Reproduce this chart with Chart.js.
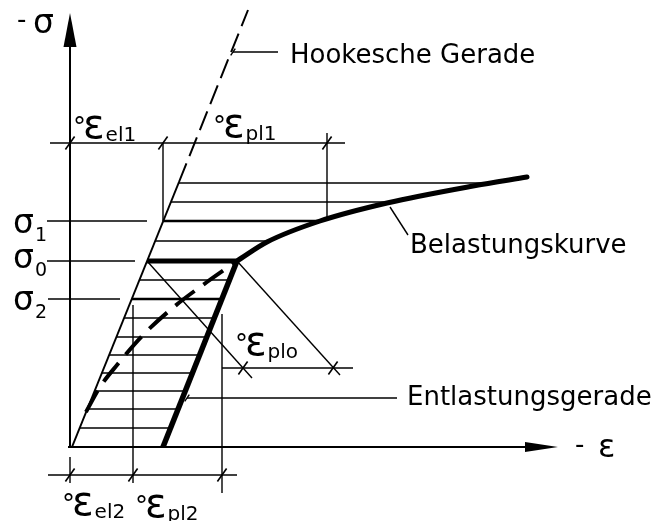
<!DOCTYPE html>
<html lang="de">
<head>
<meta charset="utf-8">
<title>Belastung und Entlastung</title>
<script src="https://cdn.jsdelivr.net/npm/chart.js@4.4.1/dist/chart.umd.min.js"></script>
<style>
  html, body { margin: 0; padding: 0; background: #fff; }
  #wrap { width: 656px; height: 521px; }
</style>
</head>
<body>
<div id="wrap"><canvas id="diagramm" width="656" height="521"></canvas></div>
<script>
// Dehnung -ε nach rechts, Spannung -σ nach oben (willkürliche Einheiten)
const sigma0 = 18.6;
const sigma1 = 22.6;
const sigma2 = 14.8;

// Hookesche Gerade: bis Index 1 durchgezogen, danach gestrichelt
const hookeEps = [0.2, 10.9, 17.8];
const hookeSig = [0, 26.5, 43.7];

// Belastungskurve ab dem Umkehrpunkt bei σ0
const belastEps = [16.7, 19.7, 25.0, 31.7, 40.3, 45.7];
const belastSig = [sigma0, 20.5, 22.6, 24.4, 26.1, 27.0];

// Entlastungsgerade (parallel zur Hookeschen Geraden)
const entlastEps = [16.7, 9.3];
const entlastSig = [sigma0, 0];

// gestrichelte Kurve zwischen Hookescher Geraden und Umkehrpunkt
const wiederEps = [1.6, 3.0, 4.7, 7.3, 10.5, 13.7, 16.7];
const wiederSig = [3.5, 6.0, 8.2, 11.2, 14.1, 16.5, sigma0];

// Höhen der Schraffurlinien
const schraffurSig = [26.4, 24.5, sigma1, 20.6, 16.7, sigma2, 12.9, 11.0, 9.2, 7.4, 5.6, 3.8, 1.9];

// Bemaßung der Dehnungsanteile
const epsEl1 = 9.3, epsGes1 = 25.7, bemOben = 30.4;
const epsEl2 = 6.3, epsGes2 = 15.2, bemUnten = -2.8;
const epsPlo = [17.3, 26.3], bemPlo = 7.9;

const SCHRIFT = '"DejaVu Sans", sans-serif';

// ε auf einem Linienzug zu gegebener Spannung
function epsAt(epsArr, sigArr, s) {
  for (let i = 0; i < sigArr.length - 1; i++) {
    const a = sigArr[i], b = sigArr[i + 1];
    if ((s - a) * (s - b) <= 0) {
      return epsArr[i] + (epsArr[i + 1] - epsArr[i]) * (s - a) / (b - a);
    }
  }
  return epsArr[epsArr.length - 1];
}

const pts = (xs, ys) => xs.map((x, i) => ({ x: x, y: ys[i] }));

function linie(data, width, extra) {
  return Object.assign({
    data: data,
    showLine: true,
    borderColor: '#000',
    borderWidth: width,
    pointRadius: 0,
    fill: false,
    borderCapStyle: 'butt'
  }, extra || {});
}

const datasets = [];

// Schraffur
for (let s of schraffurSig) {
  const links = epsAt(hookeEps, hookeSig, s);
  const rechts = s > sigma0 ? epsAt(belastEps, belastSig, s) : epsAt(entlastEps, entlastSig, s);
  const dick = (s === sigma1 || s === sigma2) ? 2.4 : 1.4;
  datasets.push(linie([{ x: links, y: s }, { x: rechts, y: s }], dick));
}

// Hilfs- und Maßlinien
const hilfslinien = [
  [[-2.3, sigma1], [7.7, sigma1]],
  [[-2.3, sigma0], [6.5, sigma0]],
  [[-2.2, sigma2], [5.0, sigma2]],
  [[-2.0, bemOben], [27.5, bemOben]],
  [[epsEl1, bemOben], [epsEl1, sigma1]],
  [[epsGes1, 31.4], [epsGes1, 22.9]],
  [[-2.2, bemUnten], [16.7, bemUnten]],
  [[0, -1.0], [0, -3.6]],
  [[epsEl2, 14.2], [epsEl2, -3.6]],
  [[epsGes2, 13.3], [epsGes2, -4.6]],
  [[7.7, sigma0], [18.2, 6.9]],
  [[16.7, sigma0], [27.0, 7.2]],
  [[epsGes2, bemPlo], [28.3, bemPlo]],
  [[11.7, 4.9], [32.7, 4.9]],
  [[16.3, 39.5], [20.8, 39.5]],
  [[32.0, 24.0], [33.8, 21.2]]
];
for (let h of hilfslinien) {
  datasets.push(linie(h.map(p => ({ x: p[0], y: p[1] })), 1.4));
}

// Koordinatenachsen
datasets.push(linie([{ x: 0, y: 0 }, { x: 0, y: 41 }], 2));
datasets.push(linie([{ x: -0.2, y: 0 }, { x: 46, y: 0 }], 2));

// Maßpfeile als Schrägstriche
const striche = [
  { x: 0, y: bemOben }, { x: epsEl1, y: bemOben }, { x: epsGes1, y: bemOben },
  { x: 0, y: bemUnten }, { x: epsEl2, y: bemUnten }, { x: epsGes2, y: bemUnten },
  { x: epsPlo[0], y: bemPlo }, { x: epsPlo[1], y: bemPlo }
];
datasets.push({
  data: striche, showLine: false, pointStyle: 'line', rotation: -55,
  pointRadius: 8, pointBorderWidth: 1.6, pointBorderColor: '#000'
});
datasets.push({
  data: [{ x: 16.3, y: 39.5 }, { x: 11.7, y: 4.9 }], showLine: false, pointStyle: 'line',
  rotation: -55, pointRadius: 4, pointBorderWidth: 1.4, pointBorderColor: '#000'
});

// Hookesche Gerade
datasets.push(linie(pts(hookeEps, hookeSig), 2, {
  segment: { borderDash: c => c.p0DataIndex >= 1 ? [20, 8] : undefined }
}));

// gestrichelte Kurve
datasets.push(linie(pts(wiederEps, wiederSig), 4, {
  cubicInterpolationMode: 'monotone', borderDash: [24, 11]
}));

// σ0-Linie, Belastungskurve, Entlastungsgerade
datasets.push(linie([{ x: epsAt(hookeEps, hookeSig, sigma0), y: sigma0 }, { x: belastEps[0], y: sigma0 }], 5));
datasets.push(linie(pts(belastEps, belastSig), 5, { cubicInterpolationMode: 'monotone', borderCapStyle: 'round' }));
datasets.push(linie(pts(entlastEps, entlastSig), 5.5));

function epsLabel(ctx, x, y, sub) {
  ctx.font = '26px ' + SCHRIFT;
  ctx.fillText('°', x, y - 2);
  ctx.font = '40px ' + SCHRIFT;
  ctx.fillText('ε', x + 10, y);
  const w = ctx.measureText('ε').width;
  ctx.font = '20px ' + SCHRIFT;
  ctx.fillText(sub, x + 11 + w, y + 3);
}

function sigLabel(ctx, x, y, sub) {
  ctx.font = '33px ' + SCHRIFT;
  ctx.fillText('σ', x, y);
  const w = ctx.measureText('σ').width;
  ctx.font = '19px ' + SCHRIFT;
  ctx.fillText(sub, x + w + 1, y + 8);
}

const beschriftung = {
  id: 'beschriftung',
  afterDatasetsDraw(chart) {
    const ctx = chart.ctx;
    const px = e => chart.scales.x.getPixelForValue(e);
    const py = s => chart.scales.y.getPixelForValue(s);
    ctx.save();
    ctx.fillStyle = '#000';

    // Pfeilspitzen der Achsen
    ctx.beginPath();
    ctx.moveTo(px(0), py(43.4));
    ctx.lineTo(px(0) - 6.5, py(40.0));
    ctx.lineTo(px(0) + 6.5, py(40.0));
    ctx.closePath();
    ctx.fill();
    ctx.beginPath();
    ctx.moveTo(px(48.8), py(0));
    ctx.lineTo(px(45.5), py(0) - 5);
    ctx.lineTo(px(45.5), py(0) + 5);
    ctx.closePath();
    ctx.fill();

    ctx.textAlign = 'left';
    ctx.textBaseline = 'alphabetic';

    // Achsenbezeichnungen
    ctx.font = '26px ' + SCHRIFT;
    ctx.fillText('-', px(-5.3), py(41.9));
    ctx.font = '33px ' + SCHRIFT;
    ctx.fillText('σ', px(-3.7), py(41.4));
    ctx.font = '26px ' + SCHRIFT;
    ctx.fillText('-', px(50.5), py(-0.6));
    ctx.font = '32px ' + SCHRIFT;
    ctx.fillText('ε', px(52.8), py(-1.0));

    ctx.font = '26px ' + SCHRIFT;
    ctx.fillText('Hookesche Gerade', px(22.0), py(38.4));
    ctx.fillText('Belastungskurve', px(34.0), py(19.4));
    ctx.fillText('Entlastungsgerade', px(33.7), py(4.2));

    sigLabel(ctx, px(-5.7), py(21.4), '1');
    sigLabel(ctx, px(-5.7), py(17.9), '0');
    sigLabel(ctx, px(-5.7), py(13.7), '2');

    epsLabel(ctx, px(0.3), py(30.9), 'el1');
    epsLabel(ctx, px(14.3), py(31.0), 'pl1');
    epsLabel(ctx, px(16.5), py(9.2), 'plo');
    epsLabel(ctx, px(-0.8), py(-6.8), 'el2');
    epsLabel(ctx, px(6.5), py(-7.0), 'pl2');

    ctx.restore();
  }
};

new Chart(document.getElementById('diagramm'), {
  type: 'scatter',
  data: { datasets: datasets },
  options: {
    responsive: false,
    animation: false,
    events: [],
    layout: { padding: 0, autoPadding: false },
    plugins: { legend: { display: false }, tooltip: { enabled: false } },
    scales: {
      x: { type: 'linear', min: -7.0, max: 58.6, display: false },
      y: { type: 'linear', min: -7.4, max: 44.7, display: false }
    }
  },
  plugins: [beschriftung]
});
</script>
</body>
</html>
